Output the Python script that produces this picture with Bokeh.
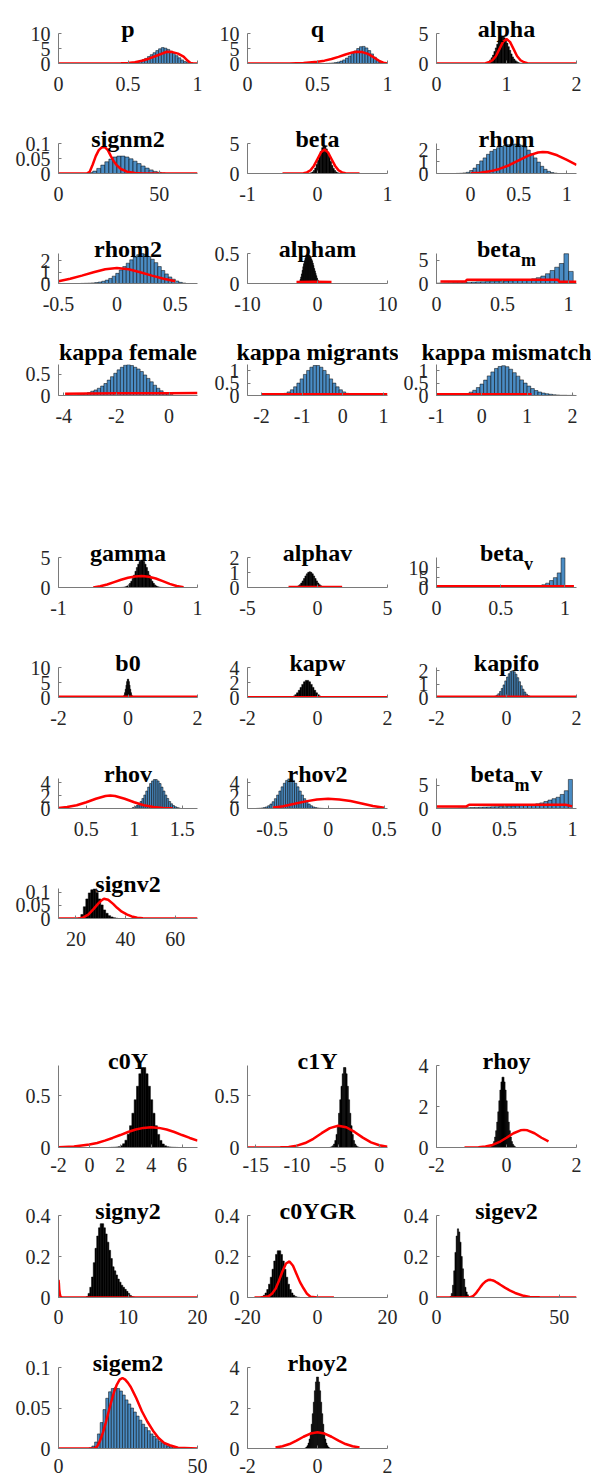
import numpy as np
from bokeh.plotting import figure
from bokeh.layouts import column, row
from bokeh.models import FixedTicker, Label, Range1d, Spacer, CustomJSTickFormatter, Title
from bokeh.embed import file_html
from bokeh.resources import INLINE

# ===================== DATA =====================
# ---- group 1 ----
p_xlim = [0, 1]; p_xticks = [0, 0.5, 1]; p_ylim = [0, 10]; p_yticks = [0, 5, 10]
p_range = [0.40, 0.96]
p_hist = [0.02, 0.03, 0.05, 0.08, 0.12, 0.18, 0.28, 0.42, 0.62, 0.9, 1.25, 1.7, 2.3, 2.95,
          3.6, 4.3, 4.9, 5.3, 5.1, 4.7, 4.1, 3.4, 2.6, 1.9, 1.2, 0.65, 0.3, 0.1]
p_prior_x = [0, 0.3, 0.4, 0.45, 0.5, 0.55, 0.6, 0.65, 0.7, 0.75, 0.78, 0.82, 0.86, 0.9, 0.93, 0.95, 0.97, 1.0]
p_prior_y = [0, 0, 0.02, 0.08, 0.2, 0.45, 0.9, 1.6, 2.5, 3.4, 3.9, 3.8, 3.3, 2.3, 0.9, 0.2, 0, 0]

q_xlim = [0, 1]; q_xticks = [0, 0.5, 1]; q_ylim = [0, 10]; q_yticks = [0, 5, 10]
q_range = [0.56, 0.98]
q_hist = [0.05, 0.1, 0.18, 0.3, 0.5, 0.8, 1.2, 1.8, 2.5, 3.3, 4.2, 5.0, 5.6, 5.7, 5.2, 4.3,
          3.2, 2.1, 1.1, 0.4, 0.1]
q_prior_x = [0, 0.3, 0.4, 0.5, 0.55, 0.6, 0.65, 0.7, 0.75, 0.78, 0.82, 0.86, 0.9, 0.94, 0.97, 1.0]
q_prior_y = [0, 0.02, 0.15, 0.55, 0.95, 1.5, 2.2, 3.0, 3.7, 3.9, 3.8, 3.2, 2.1, 0.9, 0.25, 0]

alpha_xlim = [0, 2]; alpha_xticks = [0, 1, 2]; alpha_ylim = [0, 5]; alpha_yticks = [0, 5]
alpha_range = [0.70, 1.22]
alpha_hist = [0.1, 0.2, 0.35, 0.6, 0.95, 1.4, 2.0, 2.6, 3.2, 3.8, 4.2, 4.5, 4.5, 4.3, 3.9, 3.4,
              2.8, 2.2, 1.6, 1.1, 0.75, 0.45, 0.28, 0.15, 0.08, 0.04]
alpha_prior_x = [0, 0.6, 0.7, 0.75, 0.8, 0.85, 0.9, 0.95, 1.0, 1.05, 1.1, 1.15, 1.2, 1.25, 1.3, 1.4, 2.0]
alpha_prior_y = [0, 0, 0.04, 0.2, 0.55, 1.25, 2.43, 3.6, 4.07, 3.6, 2.43, 1.25, 0.55, 0.2, 0.06, 0, 0]

signm2_xlim = [0, 69]; signm2_xticks = [0, 50]; signm2_ylim = [0, 0.1]; signm2_yticks = [0, 0.05, 0.1]
signm2_range = [15, 53]
signm2_hist = [0.003, 0.008, 0.017, 0.028, 0.039, 0.048, 0.055, 0.058, 0.058, 0.055, 0.049,
               0.041, 0.033, 0.025, 0.018, 0.012, 0.007, 0.004, 0.002]
signm2_prior_x = [0, 14, 15.5, 17, 18.5, 20, 21.5, 23, 24.5, 26, 27.5, 29, 31, 34, 38, 42, 69]
signm2_prior_y = [0, 0, 0.006, 0.03, 0.058, 0.078, 0.087, 0.088, 0.078, 0.058, 0.04, 0.027,
                  0.015, 0.006, 0.002, 0, 0]

beta_xlim = [-1, 1]; beta_xticks = [-1, 0, 1]; beta_ylim = [0, 5]; beta_yticks = [0, 5]
beta_range = [-0.12, 0.34]
beta_hist = [0.05, 0.12, 0.25, 0.5, 0.9, 1.5, 2.2, 3.0, 3.7, 4.3, 4.6, 4.5, 4.1, 3.5, 2.8, 2.0,
             1.35, 0.85, 0.5, 0.25, 0.12, 0.06, 0.02]
beta_prior_x = [-0.5, -0.3, -0.2, -0.15, -0.1, -0.05, 0, 0.05, 0.1, 0.15, 0.2, 0.25, 0.3, 0.35, 0.4, 0.5, 0.6]
beta_prior_y = [0, 0, 0.04, 0.18, 0.54, 1.3, 2.42, 3.52, 3.99, 3.52, 2.42, 1.3, 0.54, 0.18, 0.04, 0, 0]

rhom_xlim = [-0.354, 1.1]; rhom_xticks = [0, 0.5, 1]; rhom_ylim = [0, 2.5]; rhom_yticks = [0, 1, 2]
rhom_range = [-0.15, 0.9]
rhom_hist = [0.01, 0.02, 0.05, 0.1, 0.25, 0.45, 0.75, 1.05, 1.3, 1.6, 1.85, 2.0, 2.15, 2.25, 2.35,
             2.4, 2.45, 2.45, 2.45, 2.35, 2.2, 1.95, 1.65, 1.3, 0.95, 0.6, 0.35, 0.18, 0.08, 0.03]
rhom_prior_x = [0, 0.1, 0.2, 0.3, 0.4, 0.5, 0.6, 0.7, 0.75, 0.8, 0.9, 1.0, 1.1]
rhom_prior_y = [0.025, 0.071, 0.18, 0.38, 0.69, 1.09, 1.49, 1.75, 1.8, 1.77, 1.52, 1.13, 0.72]

rhom2_xlim = [-0.5, 0.69]; rhom2_xticks = [-0.5, 0, 0.5]; rhom2_ylim = [0, 2.66]; rhom2_yticks = [0, 1, 2]
rhom2_range = [-0.31, 0.59]
rhom2_hist = [0.01, 0.02, 0.03, 0.05, 0.08, 0.13, 0.2, 0.3, 0.45, 0.65, 0.9, 1.2, 1.5, 1.8, 2.1,
              2.35, 2.55, 2.65, 2.6, 2.4, 2.15, 1.85, 1.5, 1.15, 0.85, 0.58, 0.38, 0.22, 0.1, 0.04]
rhom2_prior_x = [-0.5, -0.4, -0.3, -0.2, -0.1, 0, 0.1, 0.2, 0.3, 0.4, 0.5]
rhom2_prior_y = [0.2, 0.42, 0.7, 1.0, 1.27, 1.38, 1.27, 1.0, 0.7, 0.42, 0.2]

alpham_xlim = [-10, 10]; alpham_xticks = [-10, 0, 10]; alpham_ylim = [0, 0.5]; alpham_yticks = [0, 0.5]
alpham_range = [-2.7, 0.5]
alpham_hist = [0.02, 0.04, 0.07, 0.11, 0.16, 0.22, 0.28, 0.33, 0.38, 0.42, 0.45, 0.47, 0.48, 0.48,
               0.48, 0.47, 0.46, 0.44, 0.41, 0.38, 0.34, 0.30, 0.25, 0.21, 0.17, 0.13, 0.09, 0.06,
               0.04, 0.02, 0.01, 0.005]
alpham_prior_x = [-3, -0.5, 2]
alpham_prior_y = [0.025, 0.03, 0.025]

betam_xlim = [0, 1.06]; betam_xticks = [0, 0.5, 1]; betam_ylim = [0, 6.45]; betam_yticks = [0, 5]
betam_range = [-0.015, 1.035]
betam_hist = [0.08, 0.11, 0.14, 0.17, 0.2, 0.23, 0.26, 0.29, 0.32, 0.35, 0.38, 0.41, 0.44, 0.47,
              0.5, 0.54, 0.58, 0.62, 0.68, 0.75, 0.85, 1.0, 1.25, 1.6, 2.1, 2.8, 3.5, 4.3, 6.4, 2.6]
betam_prior_x = [0.03, 0.22, 0.23, 0.92, 0.93, 1.06]
betam_prior_y = [0.45, 0.45, 0.8, 0.8, 0.35, 0.35]

kf_xlim = [-4.2, 1.08]; kf_xticks = [-4, -2, 0]; kf_ylim = [0, 0.725]; kf_yticks = [0, 0.5]
kf_range = [-3.6, 0.15]
kf_hist = [0.01, 0.02, 0.03, 0.05, 0.07, 0.1, 0.13, 0.17, 0.22, 0.28, 0.36, 0.44, 0.52, 0.6,
           0.66, 0.71, 0.72, 0.7, 0.66, 0.62, 0.56, 0.48, 0.4, 0.32, 0.24, 0.17, 0.11, 0.07,
           0.04, 0.02]
kf_prior_x = [-3.95, -2, 0, 1.08]
kf_prior_y = [0.04, 0.05, 0.055, 0.06]

km_xlim = [-2.345, 1.1]; km_xticks = [-2, -1, 0, 1]; km_ylim = [0, 1.25]; km_yticks = [0, 0.5, 1]
km_range = [-1.85, 0.39]
km_hist = [0.01, 0.01, 0.012, 0.025, 0.047, 0.087, 0.146, 0.23, 0.35, 0.5, 0.67, 0.85, 1.01,
           1.14, 1.21, 1.21, 1.14, 1.01, 0.85, 0.67, 0.5, 0.35, 0.23, 0.146, 0.087, 0.047,
           0.025, 0.012]
km_prior_x = [-2.0, -0.5, 1.1]
km_prior_y = [0.05, 0.05, 0.05]

kmm_xlim = [-1.0, 2.09]; kmm_xticks = [-1, 0, 1, 2]; kmm_ylim = [0, 1.25]; kmm_yticks = [0, 0.5, 1]
kmm_range = [-0.6, 2.04]
kmm_hist = [0.012, 0.025, 0.045, 0.08, 0.135, 0.21, 0.32, 0.46, 0.62, 0.79, 0.95, 1.09, 1.17,
            1.2, 1.16, 1.06, 0.92, 0.78, 0.63, 0.5, 0.38, 0.28, 0.2, 0.14, 0.1, 0.07, 0.05,
            0.03, 0.02, 0.01, 0.01, 0.005, 0.005]
kmm_prior_x = [-1.0, 0, 1.1]
kmm_prior_y = [0.05, 0.05, 0.05]

# ---- group 2 ----
gamma_xlim = [-1, 1]; gamma_xticks = [-1, 0, 1]; gamma_ylim = [0, 5]; gamma_yticks = [0, 5]
gamma_range = [-0.12, 0.52]
gamma_hist = [0.01, 0.02, 0.04, 0.08, 0.14, 0.25, 0.43, 0.69, 1.05, 1.52, 2.08, 2.7, 3.33, 3.89,
              4.34, 4.57, 4.57, 4.34, 3.89, 3.33, 2.7, 2.08, 1.52, 1.05, 0.69, 0.43, 0.25, 0.14,
              0.08, 0.04, 0.02, 0.01]
gamma_prior_x = [-0.5, -0.4, -0.3, -0.2, -0.1, 0, 0.1, 0.2, 0.3, 0.4, 0.5, 0.6, 0.7, 0.8]
gamma_prior_y = [0.02, 0.2, 0.5, 0.9, 1.3, 1.62, 1.84, 1.9, 1.78, 1.5, 1.05, 0.6, 0.25, 0.05]

alphav_xlim = [-5, 5]; alphav_xticks = [-5, 0, 5]; alphav_ylim = [0, 2]; alphav_yticks = [0, 1, 2]
alphav_range = [-1.6, 0.4]
alphav_hist = [0.033, 0.063, 0.116, 0.19, 0.3, 0.44, 0.6, 0.77, 0.91, 1.01, 1.05, 1.01, 0.91, 0.77,
               0.6, 0.44, 0.3, 0.19, 0.116, 0.063]
alphav_prior_x = [-2.07, 0, 1.76]
alphav_prior_y = [0.03, 0.03, 0.03]

betav_xlim = [0, 1.09]; betav_xticks = [0, 0.5, 1]; betav_ylim = [0, 15.2]; betav_yticks = [0, 5, 10]
betav_range = [-0.02, 1.0]
betav_hist = [0.05, 0.05, 0.05, 0.05, 0.05, 0.06, 0.06, 0.06, 0.06, 0.07, 0.07, 0.08, 0.08, 0.09,
              0.1, 0.11, 0.12, 0.13, 0.15, 0.17, 0.19, 0.22, 0.26, 0.3, 0.36, 0.45, 0.6, 0.9,
              1.4, 2.2, 3.5, 5.0, 7.4, 15.0]
betav_prior_x = [0, 0.5, 1.07]
betav_prior_y = [0.6, 0.6, 0.6]

b0_xlim = [-2, 2]; b0_xticks = [-2, 0, 2]; b0_ylim = [0, 10]; b0_yticks = [0, 5, 10]
b0_range = [-0.16, 0.16]
b0_hist = [0.15, 0.38, 0.84, 1.62, 2.77, 4.1, 5.3, 6.1, 6.1, 5.3, 4.1, 2.77, 1.62, 0.84, 0.38, 0.15]
b0_prior_x = [-2, 0, 2]
b0_prior_y = [0.25, 0.25, 0.25]

kapw_xlim = [-2, 2]; kapw_xticks = [-2, 0, 2]; kapw_ylim = [0, 4]; kapw_yticks = [0, 2, 4]
kapw_range = [-0.85, 0.25]
kapw_hist = [0.02, 0.047, 0.1, 0.2, 0.37, 0.62, 0.96, 1.35, 1.75, 2.09, 2.28, 2.28, 2.09, 1.75,
             1.35, 0.96, 0.62, 0.37, 0.2, 0.1, 0.047, 0.02]
kapw_prior_x = [-2, 0, 2]
kapw_prior_y = [0.05, 0.05, 0.05]

kapifo_xlim = [-2, 2]; kapifo_xticks = [-2, 0, 2]; kapifo_ylim = [0, 2.24]; kapifo_yticks = [0, 1, 2]
kapifo_range = [-0.55, 0.9]
kapifo_hist = [0.005, 0.011, 0.024, 0.048, 0.09, 0.17, 0.28, 0.45, 0.67, 0.94, 1.24, 1.53, 1.78,
               1.95, 2.0, 1.92, 1.74, 1.48, 1.18, 0.88, 0.62, 0.41, 0.25, 0.15, 0.08, 0.04, 0.02,
               0.01, 0.005]
kapifo_prior_x = [-2, 0, 2]
kapifo_prior_y = [0.05, 0.05, 0.05]

rhov_xlim = [0.21, 1.66]; rhov_xticks = [0.5, 1, 1.5]; rhov_ylim = [0, 4.63]; rhov_yticks = [0, 2, 4]
rhov_range = [0.98, 1.48]
rhov_hist = [0.16, 0.28, 0.46, 0.73, 1.08, 1.55, 2.08, 2.7, 3.3, 3.85, 4.25, 4.47, 4.47, 4.25,
             3.85, 3.3, 2.7, 2.08, 1.55, 1.08, 0.73, 0.46, 0.28, 0.16, 0.08]
rhov_prior_x = [0.21, 0.3, 0.4, 0.5, 0.6, 0.7, 0.75, 0.8, 0.9, 1.0, 1.1, 1.2, 1.3, 1.4]
rhov_prior_y = [0.08, 0.22, 0.5, 0.97, 1.5, 1.94, 2.0, 1.94, 1.5, 0.97, 0.5, 0.22, 0.08, 0.02]

rhov2_xlim = [-0.72, 0.53]; rhov2_xticks = [-0.5, 0, 0.5]; rhov2_ylim = [0, 4.63]; rhov2_yticks = [0, 2, 4]
rhov2_range = [-0.64, -0.04]
rhov2_hist = [0.02, 0.04, 0.075, 0.14, 0.25, 0.43, 0.69, 1.05, 1.52, 2.08, 2.7, 3.34, 3.9, 4.34,
              4.57, 4.57, 4.34, 3.9, 3.34, 2.7, 2.08, 1.52, 1.05, 0.69, 0.43, 0.25, 0.14, 0.075,
              0.04, 0.02]
rhov2_prior_x = [-0.5, -0.4, -0.3, -0.2, -0.1, 0, 0.1, 0.2, 0.3, 0.4, 0.5]
rhov2_prior_y = [0.12, 0.35, 0.72, 1.1, 1.4, 1.5, 1.4, 1.15, 0.78, 0.4, 0.12]

betamv_xlim = [0, 1.03]; betamv_xticks = [0, 0.5, 1]; betamv_ylim = [0, 6.4]; betamv_yticks = [0, 5]
betamv_range = [-0.02, 1.0]
betamv_hist = [0.05, 0.06, 0.07, 0.08, 0.1, 0.12, 0.14, 0.16, 0.18, 0.21, 0.24, 0.27, 0.3, 0.33,
               0.36, 0.39, 0.42, 0.45, 0.48, 0.52, 0.57, 0.62, 0.68, 0.75, 0.85, 1.0, 1.2, 1.5,
               1.8, 2.1, 2.4, 3.0, 3.8, 6.2]
betamv_prior_x = [0.0, 0.22, 0.24, 0.95, 1.0]
betamv_prior_y = [0.45, 0.45, 0.8, 0.8, 0.45]

signv2_xlim = [13, 69]; signv2_xticks = [20, 40, 60]; signv2_ylim = [0, 0.115]; signv2_yticks = [0, 0.05, 0.1]
signv2_range = [21, 37]
signv2_hist = [0.003, 0.015, 0.045, 0.075, 0.098, 0.11, 0.113, 0.1, 0.075, 0.052, 0.033, 0.02,
               0.011, 0.006, 0.003, 0.001]
signv2_prior_x = [13, 21.5, 23, 25, 27, 29, 30, 31.3, 33, 35, 36.6, 38.5, 40.7, 42.5, 44.7, 47, 69]
signv2_prior_y = [0, 0, 0.004, 0.015, 0.035, 0.057, 0.067, 0.076, 0.072, 0.056, 0.041, 0.026,
                  0.015, 0.008, 0.003, 0.001, 0]

# ---- group 3 ----
c0y_xlim = [-2, 7]; c0y_xticks = [-2, 0, 2, 4, 6]; c0y_ylim = [0, 0.79]; c0y_yticks = [0, 0.5]
c0y_range = [1.25, 5.75]
c0y_hist = [0.001, 0.002, 0.003, 0.005, 0.008, 0.017, 0.036, 0.07, 0.128, 0.21, 0.33, 0.46,
            0.59, 0.71, 0.77, 0.77, 0.71, 0.59, 0.46, 0.33, 0.21, 0.126, 0.068, 0.034, 0.016,
            0.008, 0.005, 0.003, 0.002, 0.001]
c0y_prior_x = [-2, -1, 0, 0.5, 1, 1.5, 2, 2.5, 3, 3.5, 4, 4.5, 5, 5.5, 6, 6.5, 7]
c0y_prior_y = [0.003, 0.01, 0.029, 0.044, 0.066, 0.092, 0.12, 0.149, 0.173, 0.189, 0.195, 0.189,
               0.173, 0.149, 0.12, 0.092, 0.066]

c1y_xlim = [-16, 1]; c1y_xticks = [-15, -10, -5, 0]; c1y_ylim = [0, 0.79]; c1y_yticks = [0, 0.5]
c1y_range = [-6.0, -2.4]
c1y_hist = [0.003, 0.007, 0.016, 0.034, 0.068, 0.126, 0.21, 0.33, 0.46, 0.59, 0.71, 0.77, 0.77,
            0.71, 0.59, 0.46, 0.33, 0.21, 0.126, 0.068, 0.034, 0.016, 0.007, 0.003]
c1y_prior_x = [-16, -14, -12, -11, -10, -9, -8, -7, -6, -5, -4, -3, -2, -1, 0, 1]
c1y_prior_y = [0, 0, 0.002, 0.006, 0.018, 0.043, 0.084, 0.138, 0.187, 0.21, 0.195, 0.15, 0.095,
               0.05, 0.022, 0.008]

rhoy_xlim = [-2, 2]; rhoy_xticks = [-2, 0, 2]; rhoy_ylim = [0, 4]; rhoy_yticks = [0, 2, 4]
rhoy_range = [-0.46, 0.26]
rhoy_hist = [0.04, 0.08, 0.16, 0.29, 0.51, 0.82, 1.24, 1.74, 2.28, 2.8, 3.2, 3.43, 3.43, 3.2, 2.8,
             2.28, 1.74, 1.24, 0.82, 0.51, 0.29, 0.16, 0.08, 0.04]
rhoy_prior_x = [-1.2, -1.0, -0.8, -0.6, -0.4, -0.2, 0, 0.2, 0.4, 0.5, 0.6, 0.8, 1.0, 1.2]
rhoy_prior_y = [0.001, 0.004, 0.016, 0.049, 0.126, 0.27, 0.476, 0.695, 0.84, 0.86, 0.84, 0.695,
                0.476, 0.3]

signy2_xlim = [0, 20]; signy2_xticks = [0, 10, 20]; signy2_ylim = [0, 0.4]; signy2_yticks = [0, 0.2, 0.4]
signy2_range = [3.75, 11.0]
signy2_hist = [0.0, 0.005, 0.02, 0.05, 0.1, 0.17, 0.24, 0.3, 0.34, 0.36, 0.36, 0.34, 0.31, 0.27,
               0.23, 0.19, 0.15, 0.13, 0.11, 0.09, 0.075, 0.06, 0.05, 0.04, 0.03, 0.02, 0.01,
               0.005, 0.002]
signy2_prior_x = [0, 0.05, 0.1, 0.2, 0.3, 0.5, 20]
signy2_prior_y = [0.086, 0.07, 0.04, 0.015, 0.003, 0, 0]

c0ygr_xlim = [-20, 20]; c0ygr_xticks = [-20, 0, 20]; c0ygr_ylim = [0, 0.4]; c0ygr_yticks = [0, 0.2, 0.4]
c0ygr_range = [-16.5, -5.0]
c0ygr_hist = [0.0024, 0.005, 0.011, 0.022, 0.039, 0.065, 0.099, 0.138, 0.178, 0.21, 0.228, 0.228,
              0.21, 0.178, 0.138, 0.099, 0.065, 0.039, 0.022, 0.011, 0.005, 0.0024, 0.001]
c0ygr_prior_x = [-18, -16, -14, -13, -12, -11, -10, -9, -8, -7, -6, -5, -4, -3, -2, 0, 2, 4.7]
c0ygr_prior_y = [0, 0.0004, 0.006, 0.018, 0.042, 0.082, 0.128, 0.166, 0.176, 0.155, 0.115, 0.075,
                 0.045, 0.018, 0.004, 0, 0, 0]

sigev2_xlim = [0, 57]; sigev2_xticks = [0, 50]; sigev2_ylim = [0, 0.4]; sigev2_yticks = [0, 0.2, 0.4]
sigev2_range = [5.5, 13.5]
sigev2_hist = [0.005, 0.02, 0.06, 0.13, 0.22, 0.3, 0.335, 0.32, 0.27, 0.2, 0.14, 0.09, 0.05,
               0.027, 0.013, 0.005]
sigev2_prior_x = [0, 13, 14, 15, 16, 17, 18, 19, 20, 21, 22, 23, 24, 25, 26, 28, 30, 32, 35, 38, 42, 57]
sigev2_prior_y = [0, 0, 0.002, 0.008, 0.02, 0.036, 0.053, 0.068, 0.079, 0.085, 0.086, 0.083,
                  0.077, 0.07, 0.062, 0.047, 0.034, 0.022, 0.01, 0.003, 0.001, 0]

sigem2_xlim = [0, 50]; sigem2_xticks = [0, 50]; sigem2_ylim = [0, 0.1]; sigem2_yticks = [0, 0.05, 0.1]
sigem2_range = [11, 42]
sigem2_hist = [0.001, 0.003, 0.008, 0.018, 0.032, 0.048, 0.062, 0.07, 0.074, 0.075, 0.074, 0.071,
               0.066, 0.06, 0.055, 0.05, 0.045, 0.04, 0.035, 0.03, 0.026, 0.022, 0.018, 0.015,
               0.012, 0.009, 0.007, 0.005, 0.003, 0.002, 0.001]
sigem2_prior_x = [0, 13, 14, 15, 16, 17, 18, 19, 20, 21, 22, 23, 24, 25, 26, 27, 28, 30, 32, 34,
                  36, 38, 40, 43, 50]
sigem2_prior_y = [0, 0, 0.003, 0.01, 0.02, 0.032, 0.045, 0.058, 0.07, 0.079, 0.085, 0.087, 0.085,
                  0.081, 0.076, 0.069, 0.062, 0.046, 0.033, 0.022, 0.013, 0.007, 0.004, 0.001, 0]

rhoy2_xlim = [-2, 2]; rhoy2_xticks = [-2, 0, 2]; rhoy2_ylim = [0, 4]; rhoy2_yticks = [0, 2, 4]
rhoy2_range = [-0.36, 0.36]
rhoy2_hist = [0.03, 0.07, 0.14, 0.27, 0.47, 0.78, 1.2, 1.72, 2.29, 2.85, 3.29, 3.53, 3.53, 3.29,
              2.85, 2.29, 1.72, 1.2, 0.78, 0.47, 0.27, 0.14, 0.07, 0.03]
rhoy2_prior_x = [-1.2, -1.0, -0.8, -0.6, -0.4, -0.2, 0, 0.2, 0.4, 0.6, 0.8, 1.0, 1.2]
rhoy2_prior_y = [0.045, 0.108, 0.22, 0.39, 0.58, 0.74, 0.8, 0.74, 0.58, 0.39, 0.22, 0.108, 0.045]

# ===================== STYLE / LAYOUT =====================
BLUE = "#4a8cc4"
BLACK = "#000000"
RED = "#ff0000"
AX_COL = "#7a7a7a"
TICK_TXT = "#262626"
FONT = "Liberation Serif"
TICK_SIZE = 20
TITLE_SIZE = 24
SUB_SIZE = 18
TITLE_AREA = 25      # px reserved above each plot for its title (inside the frame)
TITLE_GAP = 5        # px between plot top and title baseline

COL_W = [207, 191, 193]
COL_L = [58, 40, 38]
COL_R = [10, 11, 15]

# Times bold approximate advance widths (em) for composite titles
EMW = {"b": 0.556, "e": 0.444, "t": 0.333, "a": 0.5, "m": 0.833, "v": 0.5}


def tw(s, size):
    return sum(EMW[c] for c in s) * size


def make_panel(col, height, top, bottom, xstand, wide, xlim, xticks, ylim, yticks, rng, hist,
               px, py, color, title, sub=None, tail=None):
    fw = COL_W[col] - COL_L[col] - COL_R[col]
    yr = ylim[1] - ylim[0]
    if wide:
        # wide titles go in the regular title panel (may overhang the plot area)
        ttl = Title(text=title, align="center", text_font=FONT, text_font_style="bold",
                    text_font_size=f"{TITLE_SIZE}px", text_color="black", standoff=0, offset=0)
        yrange = Range1d(*ylim)
        fh = None
    else:
        ttl = None
        fh = height - top - bottom - TITLE_AREA          # plot (axes) height in px
        yrange = Range1d(ylim[0], ylim[1] + TITLE_AREA * yr / fh)
    f = figure(width=COL_W[col], height=height, x_range=Range1d(*xlim), y_range=yrange,
               title=ttl, output_backend="svg", toolbar_location=None,
               min_border_left=COL_L[col], min_border_right=COL_R[col],
               min_border_top=top, min_border_bottom=bottom)
    f.outline_line_color = None
    f.xgrid.visible = False
    f.ygrid.visible = False
    f.background_fill_color = "white"
    f.border_fill_color = "white"

    edges = np.linspace(rng[0], rng[1], len(hist) + 1)
    f.quad(left=edges[:-1], right=edges[1:], bottom=0, top=hist,
           fill_color=color, line_color="black", line_width=0.5)
    f.line(px, py, line_color=RED, line_width=2.5)

    fmt = "var v = Math.round(tick*1e6)/1e6; return String(v);"
    for ax, ticks in ((f.xaxis[0], xticks), (f.yaxis[0], yticks)):
        ax.ticker = FixedTicker(ticks=ticks, minor_ticks=[])
        ax.formatter = CustomJSTickFormatter(code=fmt)
        ax.axis_line_color = AX_COL
        ax.axis_line_width = 1
        ax.major_tick_line_color = AX_COL
        ax.major_tick_in = 3
        ax.major_tick_out = 0
        ax.minor_tick_line_color = None
        ax.major_label_text_font = FONT
        ax.major_label_text_font_size = f"{TICK_SIZE}px"
        ax.major_label_text_color = TICK_TXT
    f.yaxis[0].bounds = (ylim[0], ylim[1])
    f.xaxis[0].major_label_standoff = xstand
    f.yaxis[0].major_label_standoff = 8

    if wide:
        return f

    # title as labels just above the plot area (inside the extended frame)
    dy = yr / fh
    dx = (xlim[1] - xlim[0]) / fw
    xc = (xlim[0] + xlim[1]) / 2
    yb = ylim[1] + TITLE_GAP * dy
    common = dict(text_font=FONT, text_font_style="bold", text_color="black",
                  text_baseline="alphabetic", x_units="data", y_units="data")
    if sub is None:
        f.add_layout(Label(x=xc, y=yb, text=title, text_align="center",
                           text_font_size=f"{TITLE_SIZE}px", **common))
    else:
        w_main = tw(title, TITLE_SIZE)
        w_sub = tw(sub, SUB_SIZE)
        w_tail = tw(tail, TITLE_SIZE) if tail else 0
        total = w_main + w_sub + w_tail + (1 if tail else 0)
        x0 = -total / 2
        f.add_layout(Label(x=xc + x0 * dx, y=yb, text=title, text_align="left",
                           text_font_size=f"{TITLE_SIZE}px", **common))
        f.add_layout(Label(x=xc + (x0 + w_main) * dx, y=yb - 11 * dy, text=sub,
                           text_align="left", text_font_size=f"{SUB_SIZE}px", **common))
        if tail:
            f.add_layout(Label(x=xc + (x0 + w_main + w_sub + 1) * dx, y=yb, text=tail,
                               text_align="left", text_font_size=f"{TITLE_SIZE}px", **common))
    return f


def P(vals, color, title, sub=None, tail=None):
    return (vals, color, title, sub, tail)


PANELS = {
    "p": P((p_xlim, p_xticks, p_ylim, p_yticks, p_range, p_hist, p_prior_x, p_prior_y), BLUE, "p"),
    "q": P((q_xlim, q_xticks, q_ylim, q_yticks, q_range, q_hist, q_prior_x, q_prior_y), BLUE, "q"),
    "alpha": P((alpha_xlim, alpha_xticks, alpha_ylim, alpha_yticks, alpha_range, alpha_hist,
                alpha_prior_x, alpha_prior_y), BLACK, "alpha"),
    "signm2": P((signm2_xlim, signm2_xticks, signm2_ylim, signm2_yticks, signm2_range, signm2_hist,
                 signm2_prior_x, signm2_prior_y), BLUE, "signm2"),
    "beta": P((beta_xlim, beta_xticks, beta_ylim, beta_yticks, beta_range, beta_hist,
               beta_prior_x, beta_prior_y), BLACK, "beta"),
    "rhom": P((rhom_xlim, rhom_xticks, rhom_ylim, rhom_yticks, rhom_range, rhom_hist,
               rhom_prior_x, rhom_prior_y), BLUE, "rhom"),
    "rhom2": P((rhom2_xlim, rhom2_xticks, rhom2_ylim, rhom2_yticks, rhom2_range, rhom2_hist,
                rhom2_prior_x, rhom2_prior_y), BLUE, "rhom2"),
    "alpham": P((alpham_xlim, alpham_xticks, alpham_ylim, alpham_yticks, alpham_range, alpham_hist,
                 alpham_prior_x, alpham_prior_y), BLACK, "alpham"),
    "betam": P((betam_xlim, betam_xticks, betam_ylim, betam_yticks, betam_range, betam_hist,
                betam_prior_x, betam_prior_y), BLUE, "beta", "m"),
    "kf": P((kf_xlim, kf_xticks, kf_ylim, kf_yticks, kf_range, kf_hist, kf_prior_x, kf_prior_y),
            BLUE, "kappa female"),
    "km": P((km_xlim, km_xticks, km_ylim, km_yticks, km_range, km_hist, km_prior_x, km_prior_y),
            BLUE, "kappa migrants"),
    "kmm": P((kmm_xlim, kmm_xticks, kmm_ylim, kmm_yticks, kmm_range, kmm_hist, kmm_prior_x,
              kmm_prior_y), BLUE, "kappa mismatch"),
    "gamma": P((gamma_xlim, gamma_xticks, gamma_ylim, gamma_yticks, gamma_range, gamma_hist,
                gamma_prior_x, gamma_prior_y), BLACK, "gamma"),
    "alphav": P((alphav_xlim, alphav_xticks, alphav_ylim, alphav_yticks, alphav_range, alphav_hist,
                 alphav_prior_x, alphav_prior_y), BLACK, "alphav"),
    "betav": P((betav_xlim, betav_xticks, betav_ylim, betav_yticks, betav_range, betav_hist,
                betav_prior_x, betav_prior_y), BLUE, "beta", "v"),
    "b0": P((b0_xlim, b0_xticks, b0_ylim, b0_yticks, b0_range, b0_hist, b0_prior_x, b0_prior_y),
            BLACK, "b0"),
    "kapw": P((kapw_xlim, kapw_xticks, kapw_ylim, kapw_yticks, kapw_range, kapw_hist,
               kapw_prior_x, kapw_prior_y), BLACK, "kapw"),
    "kapifo": P((kapifo_xlim, kapifo_xticks, kapifo_ylim, kapifo_yticks, kapifo_range, kapifo_hist,
                 kapifo_prior_x, kapifo_prior_y), BLUE, "kapifo"),
    "rhov": P((rhov_xlim, rhov_xticks, rhov_ylim, rhov_yticks, rhov_range, rhov_hist,
               rhov_prior_x, rhov_prior_y), BLUE, "rhov"),
    "rhov2": P((rhov2_xlim, rhov2_xticks, rhov2_ylim, rhov2_yticks, rhov2_range, rhov2_hist,
                rhov2_prior_x, rhov2_prior_y), BLUE, "rhov2"),
    "betamv": P((betamv_xlim, betamv_xticks, betamv_ylim, betamv_yticks, betamv_range, betamv_hist,
                 betamv_prior_x, betamv_prior_y), BLUE, "beta", "m", "v"),
    "signv2": P((signv2_xlim, signv2_xticks, signv2_ylim, signv2_yticks, signv2_range, signv2_hist,
                 signv2_prior_x, signv2_prior_y), BLACK, "signv2"),
    "c0y": P((c0y_xlim, c0y_xticks, c0y_ylim, c0y_yticks, c0y_range, c0y_hist, c0y_prior_x,
              c0y_prior_y), BLACK, "c0Y"),
    "c1y": P((c1y_xlim, c1y_xticks, c1y_ylim, c1y_yticks, c1y_range, c1y_hist, c1y_prior_x,
              c1y_prior_y), BLACK, "c1Y"),
    "rhoy": P((rhoy_xlim, rhoy_xticks, rhoy_ylim, rhoy_yticks, rhoy_range, rhoy_hist,
               rhoy_prior_x, rhoy_prior_y), BLACK, "rhoy"),
    "signy2": P((signy2_xlim, signy2_xticks, signy2_ylim, signy2_yticks, signy2_range, signy2_hist,
                 signy2_prior_x, signy2_prior_y), BLACK, "signy2"),
    "c0ygr": P((c0ygr_xlim, c0ygr_xticks, c0ygr_ylim, c0ygr_yticks, c0ygr_range, c0ygr_hist,
                c0ygr_prior_x, c0ygr_prior_y), BLACK, "c0YGR"),
    "sigev2": P((sigev2_xlim, sigev2_xticks, sigev2_ylim, sigev2_yticks, sigev2_range, sigev2_hist,
                 sigev2_prior_x, sigev2_prior_y), BLACK, "sigev2"),
    "sigem2": P((sigem2_xlim, sigem2_xticks, sigem2_ylim, sigem2_yticks, sigem2_range, sigem2_hist,
                 sigem2_prior_x, sigem2_prior_y), BLUE, "sigem2"),
    "rhoy2": P((rhoy2_xlim, rhoy2_xticks, rhoy2_ylim, rhoy2_yticks, rhoy2_range, rhoy2_hist,
                rhoy2_prior_x, rhoy2_prior_y), BLACK, "rhoy2"),
}

# rows: (panel keys, figure height, top border, bottom border, x-label standoff, wide titles)
G1 = [(["p", "q", "alpha"], 118, 8, 55, 13, False),
      (["signm2", "beta", "rhom"], 110, 0, 55, 13, False),
      (["rhom2", "alpham", "betam"], 108, 0, 53, 13, False),
      (["kf", "km", "kmm"], 114, 0, 55, 13, True)]
G2 = [(["gamma", "alphav", "betav"], 110, 0, 55, 13, False),
      (["b0", "kapw", "kapifo"], 111, 0, 56, 13, False),
      (["rhov", "rhov2", "betamv"], 110, 0, 55, 13, False),
      (["signv2"], 110, 0, 55, 13, False)]
G3 = [(["c0y", "c1y", "rhoy"], 150, 0, 43, 10, False),
      (["signy2", "c0ygr", "sigev2"], 152, 0, 45, 12, False),
      (["sigem2", "rhoy2"], 138, 0, 32, 10, False)]


def build_rows(spec):
    out = []
    for keys, h, top, bot, xs, wide in spec:
        figs = []
        for ci, k in enumerate(keys):
            vals, color, title, sub, tail = PANELS[k]
            figs.append(make_panel(ci, h, top, bot, xs, wide, *vals, color, title, sub, tail))
        out.append(row(*figs))
    return out


children = build_rows(G1)
children.append(Spacer(width=10, height=82))
children += build_rows(G2)
children.append(Spacer(width=10, height=67))
children += build_rows(G3)

layout = column(*children)
open("out.html", "w").write(file_html(layout, INLINE))
